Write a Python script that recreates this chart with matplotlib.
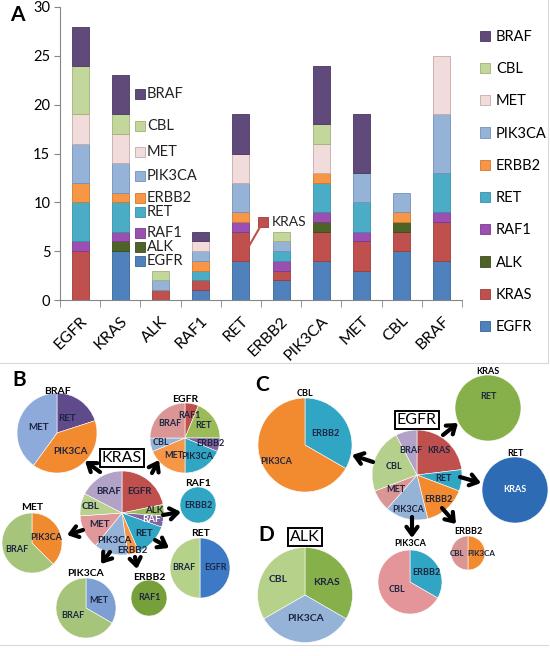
import matplotlib
matplotlib.use('Agg')
import matplotlib.pyplot as plt
from matplotlib.patches import Patch
import numpy as np

plt.rcParams['font.family'] = ['Lato', 'DejaVu Sans']

# ---------------- data: panel A (stacked bars) ----------------
categories = ['EGFR', 'KRAS', 'ALK', 'RAF1', 'RET', 'ERBB2', 'PIK3CA', 'MET', 'CBL', 'BRAF']
egfr   = [0, 5, 0, 1, 4, 2, 4, 3, 5, 4]
kras   = [5, 0, 1, 1, 3, 1, 3, 3, 2, 4]
alk    = [0, 1, 0, 0, 0, 0, 1, 0, 1, 0]
raf1   = [1, 1, 0, 0, 1, 1, 1, 1, 0, 1]
ret    = [4, 3, 0, 1, 0, 1, 3, 3, 0, 4]
erbb2  = [2, 1, 0, 1, 1, 0, 1, 0, 1, 0]
pik3ca = [4, 3, 1, 1, 3, 1, 0, 3, 2, 6]
met    = [3, 3, 0, 1, 3, 0, 3, 0, 0, 6]
cbl    = [5, 2, 1, 0, 0, 1, 2, 0, 0, 0]
braf   = [4, 4, 0, 1, 4, 0, 6, 6, 0, 0]
series_names = ['EGFR', 'KRAS', 'ALK', 'RAF1', 'RET', 'ERBB2', 'PIK3CA', 'MET', 'CBL', 'BRAF']
series_values = [egfr, kras, alk, raf1, ret, erbb2, pik3ca, met, cbl, braf]
series_colors = ['#4F81BD', '#C0504D', '#4F6228', '#9B4FB3', '#4BACC6',
                 '#F79646', '#95B3D7', '#F2DCDB', '#C3D69B', '#604A7B']
series_edges = ['#3B6595', '#9C3B38', '#3A4A1C', '#7A3A8E', '#3790A8',
                '#D07830', '#7590B8', '#C9A9A8', '#9FB377', '#4A385F']

# ---------------- data: pies (panels B, C, D) ----------------
b_kras_labels = ['EGFR', 'ALK', 'RAF1', 'RET', 'ERBB2', 'PIK3CA', 'MET', 'CBL', 'BRAF']
b_kras_values = [5, 1, 1, 3, 1, 3, 3, 2, 4]
b_braf_labels = ['RET', 'PIK3CA', 'MET']
b_braf_values = [1, 2, 2]
b_egfr_labels = ['RAF1', 'RET', 'ERBB2', 'PIK3CA', 'MET', 'CBL', 'BRAF']
b_egfr_values = [1, 3, 1, 3, 3, 1, 4]
b_raf1_labels = ['ERBB2']
b_raf1_values = [1]
b_met_labels = ['PIK3CA', 'BRAF']
b_met_values = [3, 5]
b_ret_labels = ['EGFR', 'BRAF']
b_ret_values = [1, 1]
b_erbb2_labels = ['RAF1']
b_erbb2_values = [1]
b_pik3ca_labels = ['MET', 'BRAF']
b_pik3ca_values = [1, 2]

c_egfr_labels = ['KRAS', 'RET', 'ERBB2', 'PIK3CA', 'MET', 'CBL', 'BRAF']
c_egfr_values = [3, 1, 2, 2, 1, 3, 1]
c_cbl_labels = ['ERBB2', 'PIK3CA']
c_cbl_values = [1, 2]
c_kras_labels = ['RET']
c_kras_values = [1]
c_ret_labels = ['KRAS']
c_ret_values = [1]
c_erbb2_labels = ['PIK3CA', 'CBL']
c_erbb2_values = [1, 1]
c_pik3ca_labels = ['ERBB2', 'CBL']
c_pik3ca_values = [1, 2]

d_alk_labels = ['KRAS', 'PIK3CA', 'CBL']
d_alk_values = [1, 1, 1]

W, H = 550, 656
fig = plt.figure(figsize=(W / 100, H / 100), dpi=100)
fig.patch.set_facecolor('white')

# ---------------- Panel A ----------------
ax = fig.add_axes([60 / W, 1 - 300 / H, 402 / W, 293 / H])
x = np.arange(len(categories))
bottom = np.zeros(len(categories))
for name, vals, c, ec in zip(series_names, series_values, series_colors, series_edges):
    v = np.array(vals, dtype=float)
    m = v > 0
    ax.bar(x[m], v[m], 0.42, bottom=bottom[m], color=c, edgecolor=ec, linewidth=0.6)
    bottom += v
ax.set_xlim(-0.5, 9.5)
ax.set_ylim(0, 30)
ax.set_yticks(range(0, 31, 5))
ax.set_xticks(x)
ax.set_xticklabels(categories, rotation=45, ha='right', rotation_mode='anchor', fontsize=11.5)
ax.set_xticks(np.arange(-0.5, 10, 1), minor=True)
ax.tick_params(axis='x', which='major', length=0, pad=10)
ax.tick_params(axis='x', which='minor', length=5, color='#868686')
ax.tick_params(axis='y', length=4, color='#868686', labelsize=10.5, pad=3)
for s in ['top', 'right']:
    ax.spines[s].set_visible(False)
for s in ['left', 'bottom']:
    ax.spines[s].set_color('#868686')
ax.set_facecolor('none')

# KRAS data label with leader line (RET bar)
ax.annotate('', xy=(4.17, 5.3), xytext=(4.55, 8.0),
            arrowprops=dict(arrowstyle='-', color='#C0504D', lw=1.5, shrinkA=0, shrinkB=0))
ax.plot([4.55], [8.0], marker='s', ms=7, color='#C0504D', mec='#9C3B38', mew=0.6, clip_on=False)
ax.text(4.77, 8.0, 'KRAS', fontsize=10, va='center', ha='left', color='#222222')

# right legend
handles = [Patch(facecolor=c, edgecolor=e, linewidth=0.6) for c, e in zip(series_colors, series_edges)]
fig.legend(handles[::-1], series_names[::-1], loc='upper left',
           bbox_to_anchor=(480 / W, 1 - 30 / H), frameon=False, fontsize=10.5,
           handlelength=0.7, handleheight=0.7, handletextpad=0.4, labelspacing=1.25,
           borderaxespad=0, borderpad=0)

# overlay axes in pixel coordinates (y up)
ax2 = fig.add_axes([0, 0, 1, 1])
ax2.patch.set_alpha(0)


def Y(y):
    return H - y


# light frame lines around panels
ax2.plot([0, 548, 548], [Y(363), Y(363), Y(0)], color='#D9D9D9', lw=0.8)
ax2.plot([0, 548], [Y(645), Y(645)], color='#D9D9D9', lw=0.8)

# inner legend (manually placed entries)
inner_names = ['BRAF', 'CBL', 'MET', 'PIK3CA', 'ERBB2', 'RET', 'RAF1', 'ALK', 'EGFR']
inner_y = [94, 126, 152, 176, 198, 212, 233, 247, 261]
for nm, yy in zip(inner_names, inner_y):
    i = series_names.index(nm)
    ax2.plot([140], [Y(yy)], marker='s', ms=6.5, color=series_colors[i], mec=series_edges[i], mew=0.6)
    ax2.text(147, Y(yy), nm, fontsize=10.5, va='center', ha='left', color='#222222')

# panel letters
ax2.text(10, Y(15), 'A', fontsize=15, fontweight='bold', va='center', ha='left')
ax2.text(12, Y(380), 'B', fontsize=15, fontweight='bold', va='center', ha='left')
ax2.text(255, Y(385), 'C', fontsize=15, fontweight='bold', va='center', ha='left')
ax2.text(258, Y(535), 'D', fontsize=15, fontweight='bold', va='center', ha='left')

LABEL_COLOR = '#1C2541'


def draw_pie(cx, cy, r, vals, labels, colors, ld=0.55, fs=6.5, start=90,
             title=None, title_y=None, title_fs=7.5, label_colors=None):
    wedges, texts = ax2.pie(vals, labels=labels, colors=colors, center=(cx, Y(cy)),
                            radius=r, startangle=start, counterclock=False,
                            labeldistance=0.5, frame=True,
                            wedgeprops=dict(linewidth=0.4, edgecolor='white'),
                            textprops=dict(fontsize=fs, fontweight='bold', color=LABEL_COLOR))
    lds = ld if isinstance(ld, (list, tuple)) else [ld] * len(vals)
    for k, (w, t) in enumerate(zip(wedges, texts)):
        th = np.deg2rad((w.theta1 + w.theta2) / 2)
        t.set_position((cx + lds[k] * r * np.cos(th), Y(cy) + lds[k] * r * np.sin(th)))
        t.set_ha('center')
        t.set_va('center')
        if label_colors is not None:
            t.set_color(label_colors[k])
    if title is not None:
        ax2.text(cx, Y(title_y), title, fontsize=title_fs, fontweight='bold',
                 ha='center', va='center', color='black')


def arrow(tail, head):
    ax2.annotate('', xy=(head[0], Y(head[1])), xytext=(tail[0], Y(tail[1])),
                 arrowprops=dict(arrowstyle='->,head_length=0.55,head_width=0.4', lw=3,
                                 color='black', mutation_scale=10, shrinkA=0, shrinkB=0))


def boxlabel(cx, cy, s):
    ax2.text(cx, Y(cy), s, fontsize=11.5, ha='center', va='center', color='black',
             bbox=dict(boxstyle='square,pad=0.15', fc='white', ec='black', lw=1.4))


# ---------------- Panel B ----------------
draw_pie(122, 513, 42, b_kras_values, b_kras_labels,
         ['#C0504D', '#9BBB59', '#8064A2', '#31A5C4', '#F79646', '#95B3D7', '#E1989A', '#B9D18E', '#B3A2C7'],
         ld=[0.65, 0.76, 0.79, 0.71, 0.92, 0.68, 0.61, 0.77, 0.6], fs=7,
         label_colors=[LABEL_COLOR, LABEL_COLOR, 'white'] + [LABEL_COLOR] * 6)
boxlabel(122, 458, 'KRAS')
draw_pie(57, 433, 40, b_braf_values, b_braf_labels, ['#5F4A8B', '#F28A30', '#8EAADB'],
         ld=[0.45, 0.57, 0.48], fs=7, title='BRAF', title_y=391)
draw_pie(185, 438, 35, b_egfr_values, b_egfr_labels,
         ['#C0504D', '#9BBB59', '#8064A2', '#31A5C4', '#F79646', '#95B3D7', '#D99694'],
         ld=[0.66, 0.62, 0.75, 0.62, 0.6, 0.7, 0.6], fs=6.5, title='EGFR', title_y=399)
draw_pie(198, 505, 18, b_raf1_values, b_raf1_labels, ['#31A5C4'], ld=0.0, fs=6.5,
         title='RAF1', title_y=484)
draw_pie(32, 543, 30, b_met_values, b_met_labels, ['#F08A2E', '#A6C47A'],
         ld=[0.5, 0.55], fs=6.5, title='MET', title_y=508)
draw_pie(200, 568, 30, b_ret_values, b_ret_labels, ['#3C7AC5', '#B5D18A'],
         ld=0.53, fs=6.5, title='RET', title_y=533)
draw_pie(149, 598, 18, b_erbb2_values, b_erbb2_labels, ['#77A03A'], ld=0.0, fs=6.5,
         title='ERBB2', title_y=577)
draw_pie(86, 608, 30, b_pik3ca_values, b_pik3ca_labels, ['#7E9FD3', '#A6C47A'],
         ld=[0.5, 0.52], fs=6.5, title='PIK3CA', title_y=573)

arrow((100, 472), (85, 461))
arrow((152, 473), (159, 460))
arrow((163, 515), (181, 512))
arrow((83, 530), (67, 535))
arrow((110, 552), (101, 564))
arrow((135, 557), (137, 569))
arrow((155, 540), (169, 548))

# ---------------- Panel C ----------------
draw_pie(417, 475, 45, c_egfr_values, c_egfr_labels,
         ['#C0504D', '#31A5C4', '#F28A30', '#95B3D7', '#D99694', '#B5CF8C', '#B3A2C7'],
         ld=[0.72, 0.6, 0.72, 0.78, 0.56, 0.54, 0.56], fs=6.5)
boxlabel(417, 420, 'EGFR')
draw_pie(305, 445, 47, c_cbl_values, c_cbl_labels, ['#31A5C4', '#F28A30'],
         ld=[0.5, 0.72], fs=6.5, title='CBL', title_y=393, title_fs=6.5)
draw_pie(488, 408, 33, c_kras_values, c_kras_labels, ['#86B04A'], ld=0.36, start=270,
         fs=6.5, title='KRAS', title_y=371, title_fs=6.5)
draw_pie(515, 490, 33, c_ret_values, c_ret_labels, ['#2E6BB5'], ld=0.0, fs=6.5,
         title='RET', title_y=453, title_fs=6.5, label_colors=['white'])
draw_pie(468, 553, 17, c_erbb2_values, c_erbb2_labels, ['#F28A30', '#D99694'],
         ld=[0.8, 0.62], fs=5.8, title='ERBB2', title_y=531, title_fs=6.5)
draw_pie(410, 582, 32, c_pik3ca_values, c_pik3ca_labels, ['#31A5C4', '#E3959A'],
         ld=[0.6, 0.48], fs=6.5, title='PIK3CA', title_y=544, title_fs=6.5)

arrow((373, 462), (352, 455))
arrow((443, 435), (458, 423))
arrow((460, 477), (481, 483))
arrow((442, 508), (456, 524))
arrow((412, 517), (412, 538))

# ---------------- Panel D ----------------
draw_pie(305, 595, 47.5, d_alk_values, d_alk_labels, ['#86B04A', '#95B3D7', '#B5D18A'],
         ld=[0.52, 0.5, 0.65], fs=7.5)
boxlabel(305, 537, 'ALK')

ax2.set_xlim(0, W)
ax2.set_ylim(0, H)
ax2.set_aspect('equal')
ax2.axis('off')

fig.savefig('out.png', dpi=100, facecolor='white')
